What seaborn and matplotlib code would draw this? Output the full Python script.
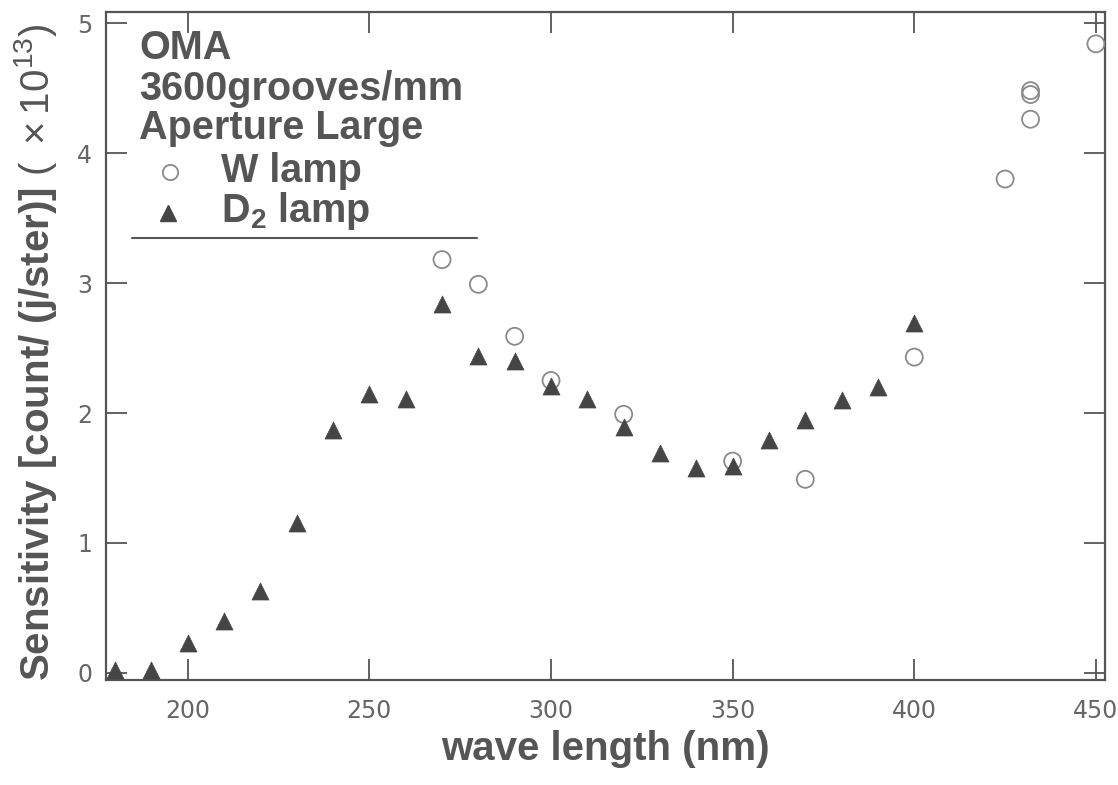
import matplotlib
matplotlib.use("Agg")
import matplotlib.pyplot as plt
from matplotlib.lines import Line2D
import pandas as pd
import seaborn as sns

# D2 lamp calibration (triangles)
d2_wavelength = [180, 190, 200, 210, 220, 230, 240, 250, 260, 270, 280, 290,
                 300, 310, 320, 330, 340, 350, 360, 370, 380, 390, 400]
d2_sensitivity = [0.02, 0.02, 0.23, 0.40, 0.63, 1.15, 1.87, 2.15, 2.11, 2.84,
                  2.44, 2.40, 2.21, 2.11, 1.89, 1.69, 1.58, 1.59, 1.79, 1.95,
                  2.10, 2.20, 2.69]

# W lamp calibration (open circles)
w_wavelength = [270, 280, 290, 300, 320, 350, 370, 400, 425, 432, 432, 432, 450]
w_sensitivity = [3.18, 2.99, 2.59, 2.25, 1.99, 1.63, 1.49, 2.43, 3.80, 4.48,
                 4.45, 4.26, 4.84]

x_ticks = [200, 250, 300, 350, 400, 450]
y_ticks = [0, 1, 2, 3, 4, 5]

header_lines = ["OMA", "3600grooves/mm", "Aperture Large"]
w_label = "W lamp"
d2_label = r"D$_\mathbf{2}$ lamp"

sns.set_style("ticks")
plt.rcParams.update({
    "font.family": ["Liberation Sans", "DejaVu Sans"],
    "mathtext.fontset": "custom",
    "mathtext.rm": "Liberation Sans",
    "mathtext.it": "Liberation Sans",
    "mathtext.bf": "Liberation Sans:bold",
})

ink = "#555555"
tri_color = "#454545"
circ_color = "#8a8a8a"

d2 = pd.DataFrame({"wavelength": d2_wavelength, "sensitivity": d2_sensitivity})
w = pd.DataFrame({"wavelength": w_wavelength, "sensitivity": w_sensitivity})

fig = plt.figure(figsize=(11.18, 7.85), dpi=100)
ax = fig.add_axes([106 / 1118, (785 - 680) / 785, (1105 - 106) / 1118, (680 - 12) / 785])

sns.scatterplot(data=w, x="wavelength", y="sensitivity", ax=ax, marker="o",
                s=150, facecolors="none", edgecolor=circ_color, linewidth=1.3,
                zorder=3)
sns.scatterplot(data=d2, x="wavelength", y="sensitivity", ax=ax, marker="^",
                s=150, color=tri_color, edgecolor=tri_color, linewidth=0.5,
                zorder=4)

ax.set_xlim(177.5, 452.5)
ax.set_ylim(-0.054, 5.085)
ax.set_xticks(x_ticks)
ax.set_yticks(y_ticks)
ax.set_xticklabels([str(v) for v in x_ticks], family="DejaVu Sans", fontsize=17, color="#666666")
ax.set_yticklabels([str(v) for v in y_ticks], family="DejaVu Sans", fontsize=17, color="#666666")
ax.tick_params(direction="in", length=15, width=1.3, color=ink,
               top=True, right=True)
ax.tick_params(axis="x", pad=14)
ax.tick_params(axis="y", pad=10)

for side in ["left", "right", "top", "bottom"]:
    ax.spines[side].set_visible(True)
    ax.spines[side].set_color(ink)
    ax.spines[side].set_linewidth(1.6)

ax.set_xlabel("wave length (nm)", fontsize=29, fontweight="bold", color=ink)
ax.set_ylabel(r"Sensitivity [count/ (j/ster)] $(\ \times 10^{13})$",
              fontsize=29, fontweight="bold", color=ink)
ax.xaxis.set_label_coords(0.5, -0.075)
ax.yaxis.set_label_coords(-0.047, 0.49)

# Annotation block in the upper left corner
text_kw = dict(transform=ax.transAxes, fontsize=28.5, fontweight="bold",
               color=ink, va="baseline", ha="left")
header_y = [0.930, 0.869, 0.810]
for y, line in zip(header_y, header_lines):
    ax.text(0.033, y, line, **text_kw)
ax.text(0.115, 0.745, w_label, **text_kw)
ax.text(0.115, 0.685, d2_label, **text_kw)
ax.plot([0.064], [0.761], marker="o", ms=11, mfc="none", mec=circ_color,
        mew=1.3, transform=ax.transAxes, clip_on=False)
ax.plot([0.062], [0.699], marker="^", ms=11, color=tri_color,
        transform=ax.transAxes, clip_on=False)
ax.add_line(Line2D([0.026, 0.371], [0.662, 0.662], transform=ax.transAxes,
                   color=ink, lw=1.5))

fig.savefig("out.png", dpi=100, facecolor="white")
